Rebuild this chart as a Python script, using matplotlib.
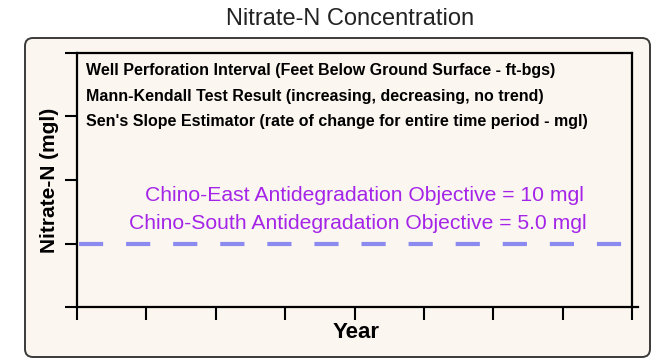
import matplotlib.pyplot as plt
from matplotlib.patches import FancyBboxPatch

plt.rcParams['font.family'] = ['Liberation Sans', 'DejaVu Sans']

# chart data
x_ticks = [0, 1, 2, 3, 4, 5, 6, 7, 8]
y_ticks = [0, 5, 10, 15, 20]
objective_south = 5.0
info_lines = ["Well Perforation Interval (Feet Below Ground Surface - ft-bgs)",
              "Mann-Kendall Test Result (increasing, decreasing, no trend)",
              "Sen's Slope Estimator (rate of change for entire time period - mgl)"]
objective_lines = ["Chino-East Antidegradation Objective = 10 mgl",
                   "Chino-South Antidegradation Objective = 5.0 mgl"]

fig = plt.figure(figsize=(6.53, 3.61), dpi=100)
fig.patch.set_facecolor('white')

# rounded frame behind the plot
box = FancyBboxPatch((0.25, 0.04), 6.25, 3.19,
                     boxstyle="round,pad=0,rounding_size=0.08",
                     transform=fig.dpi_scale_trans,
                     facecolor='#fbf6ef', edgecolor='#3a3a3a', lw=1.4, zorder=-5)
fig.patches.append(box)

fig.text(350 / 653, 1 - 19 / 361, "Nitrate-N Concentration", ha='center', va='center',
         fontsize=17, color='#222222')

ax = fig.add_axes([77 / 653, 1 - 307 / 361, (632 - 77) / 653, (307 - 53) / 361])
ax.set_zorder(2)
ax.patch.set_alpha(0)
ax.set_xlim(x_ticks[0], x_ticks[-1])
ax.set_ylim(y_ticks[0], y_ticks[-1])
ax.set_xticks(x_ticks)
ax.set_yticks(y_ticks)
ax.set_xticklabels([])
ax.set_yticklabels([])
ax.tick_params(direction='out', length=9, width=1.5, color='black')
for s in ax.spines.values():
    s.set_linewidth(1.6)
    s.set_color('black')
ax.spines['bottom'].set_bounds(x_ticks[0], x_ticks[-1] + 0.09)

ax.axhline(objective_south, xmin=0.003, xmax=0.985, color='#8a8af0', lw=3,
           dashes=(5.8, 5.5))

for i, t in enumerate(info_lines):
    ax.text(0.017, 0.93 - i * 0.1, t, transform=ax.transAxes, fontsize=11.5,
            fontweight='bold', va='center', ha='left', color='black')
for i, (t, xc) in enumerate(zip(objective_lines, [364, 358])):
    ax.text((xc - 77) / 555, 0.44 - i * 0.11, t, transform=ax.transAxes,
            fontsize=15.2, va='center', ha='center', color='#a424e8')

ax.set_ylabel("Nitrate-N (mgl)", fontsize=15, fontweight='bold', va='center')
ax.yaxis.set_label_coords(-0.05, 0.5)
ax.set_xlabel("Year", fontsize=16, fontweight='bold', va='center')
ax.xaxis.set_label_coords(0.503, -0.102)

fig.savefig("out.png", dpi=100)
